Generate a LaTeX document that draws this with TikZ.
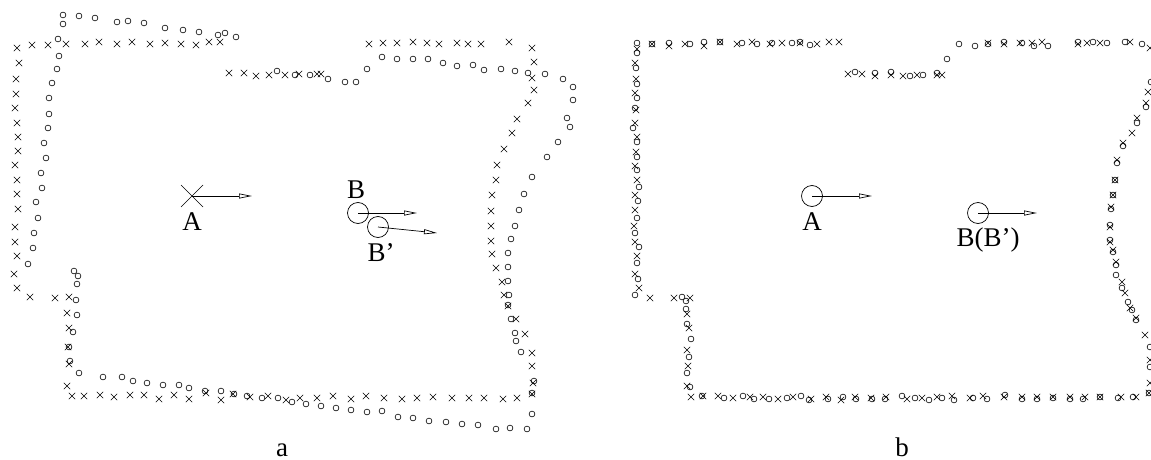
\documentclass[tikz,border=0pt]{standalone}
\usepackage{fontspec}
\setmainfont{Liberation Serif}
\usetikzlibrary{arrows.meta}
\begin{document}
\begin{tikzpicture}[x=1pt,y=-1pt,line width=0.6pt,
  vec/.style={line width=0.7pt,-{Triangle[open,length=13pt,width=5pt]}},
  pose/.style={draw,circle,minimum size=21pt,inner sep=0pt,line width=0.7pt},
  lbl/.style={font=\fontsize{27}{30}\selectfont,inner sep=0pt}]
\useasboundingbox (0,0) rectangle (1151,460);
\clip (0,0) rectangle (1151,460);
\newcommand\ringmarks[1]{\foreach \p in {#1} \draw \p circle[radius=2.9pt];}
\newcommand\crossmarks[1]{\foreach \p in {#1} \draw \p +(-3.2pt,-3.2pt) -- +(3.2pt,3.2pt) \p +(-3.2pt,3.2pt) -- +(3.2pt,-3.2pt);}
% ---------- panel a ----------
\ringmarks{(63,15),(63,24),(79,16),(95,18),(117,22),(128,21),(144,23),(165,28),(183,30),(199,32),(218,35),(225,33),(236,37),
(58,39),(59,56),(57,69),(52,83),(49,98),(49,114),(48,128),(44,143),(46,158),(41,173),(42,188),(36,202),(38,218),(34,233),(33,248),(28,264),
(74,271),(78,276),(77,284),(76,300),(77,315),(73,332),(69,347),(70,361),(79,373),
(103,377),(122,377),(133,381),(147,383),(163,385),(179,385),(189,388),(205,391),(221,391),(234,394),(247,396),(262,398),(278,398),(292,402),(306,404),(321,406),(336,408),(351,410),(367,412),(382,411),(398,417),(413,418),(429,421),(446,422),(462,424),(478,425),(496,429),(510,428),(527,429),
(532,414),(534,381),(532,393),
(515,226),(511,239),(508,253),(508,267),(508,281),(509,295),(508,305),(511,319),(515,333),(516,341),(521,352),
(367,69),(382,57),(397,59),(413,59),(428,59),(443,63),(457,66),(473,65),(484,70),(501,69),(515,71),(528,73),(545,74),(563,79),(573,87),(573,100),(567,118),(570,127),(558,142),(547,157),(532,177),(524,194),(519,210),
(328,79),(345,82),(356,82),(277,71),(295,75),(310,75)}
\crossmarks{(17,48),(32,45),(48,45),(66,44),(85,44),(99,42),(117,44),(132,42),(150,44),(165,43),(181,44),(196,45),(209,42),(220,42),
(19,63),(16,79),(16,94),(15,108),(17,123),(18,137),(18,151),(15,165),(17,180),(17,194),(18,209),(15,227),(15,242),(17,256),(14,274),(17,288),(30,297),(55,298),(69,297),(67,313),(69,328),(68,347),(69,364),(67,386),
(72,396),(84,396),(100,395),(114,397),(130,395),(144,395),(159,399),(174,395),(189,399),(206,393),(221,400),(233,394),(250,397),(268,396),(286,400),(300,398),(317,398),(333,396),(351,399),(366,396),(384,398),(402,399),(417,398),(433,397),(452,398),(469,398),(484,398),(503,399),(517,398),(533,383),(532,394),
(491,226),(491,241),(492,254),(496,268),(502,282),(504,295),(508,306),(516,319),(525,334),(532,353),(532,366),
(369,44),(383,43),(397,43),(413,42),(427,43),(439,44),(457,43),(468,44),(481,44),(509,42),(532,48),(534,62),(532,78),(534,90),(528,103),(517,119),(512,133),(504,149),(497,165),(496,180),(492,195),(491,211),
(229,73),(244,73),(256,76),(269,75),(285,75),(299,74),(317,74),(321,74)}
% poses in a
\coordinate (pA) at (192,196);
\draw[line width=0.7pt] (pA) +(-11,-11) -- +(11,11) (pA) +(-11,11) -- +(11,-11);
\coordinate (pAe) at (252,196);
\draw[vec] (pA) -- (pAe);
\node[lbl] (lA) at (192,222) {A};
\node[pose] (pB) at (358,213) {};
\coordinate (pBe) at (417,213);
\draw[vec] (pB.center) -- (pBe);
\node[lbl] (lB) at (356,190) {B};
\node[pose] (pBp) at (378,227) {};
\coordinate (pBpe) at (437,233);
\draw[vec] (pBp.center) -- (pBpe);
\node[lbl] (lBp) at (381,253) {B'};
\node[lbl,anchor=base] (la) at (282,456) {a};
% ---------- panel b ----------
\ringmarks{(637,43),(637,53),(652,44),(669,43),(690,44),(704,42),(720,42),(742,43),(757,44),(772,43),(792,43),(800,42),(810,45),
(636,68),(637,84),(637,98),(635,108),(633,128),(637,142),(637,157),(637,170),(639,187),(638,201),(637,218),(635,233),(639,247),(637,263),(638,279),(635,295),
(682,297),(686,301),(686,309),(687,324),(691,339),(689,357),(687,373),(690,387),
(702,396),(724,398),(743,396),(754,399),(769,399),(787,398),(801,396),(809,400),(828,399),(843,397),(856,399),(872,399),(885,399),(902,396),(915,398),(929,400),(942,398),(954,400),(973,398),(987,399),(1005,395),(1022,399),(1037,399),(1053,398),(1070,399),(1083,399),(1100,397),(1118,398),(1133,397),(1149,393),
(1110,225),(1110,240),(1113,252),(1116,265),(1116,275),(1122,288),(1128,302),(1132,310),(1136,320),(1150,347),(1150,367),
(1151,82),(1146,107),(1137,123),(1123,146),(1117,163),(1115,180),(1113,195),(1111,209),
(959,44),(975,46),(988,44),(1004,42),(1022,43),(1034,46),(1048,46),(1078,42),(1093,42),(1107,43),(1125,42),(1142,44),
(855,72),(875,73),(891,72),(910,76),(923,75),(937,73),(947,59)}
\crossmarks{(637,49),(652,44),(669,46),(685,44),(704,46),(720,42),(737,44),(752,42),(770,44),(782,43),(800,43),(817,44),(829,42),(839,42),
(635,63),(636,79),(635,93),(636,110),(635,123),(637,137),(636,152),(635,166),(637,180),(635,195),(635,210),(634,226),(635,242),(637,256),(635,274),(639,288),
(650,298),(674,298),(690,298),(687,314),(689,328),(687,350),(688,366),(687,386),(691,397),
(703,396),(718,396),(733,398),(750,397),(763,397),(778,399),(793,397),(811,399),(826,397),(841,400),(855,397),(871,398),(886,397),(907,399),(922,398),(937,397),(952,396),(970,398),(983,396),(1004,397),(1022,397),(1037,397),(1053,397),(1070,397),(1085,397),(1100,397),(1121,397),(1136,397),(1149,393),
(1110,227),(1110,242),(1113,250),(1116,262),(1122,282),(1125,293),(1130,308),(1136,318),(1145,335),(1150,360),(1150,383),
(1148,92),(1146,103),(1137,118),(1132,133),(1123,143),(1117,160),(1115,180),(1113,195),(1111,207),
(988,43),(1004,44),(1020,43),(1032,43),(1042,42),(1078,44),(1087,43),(1100,43),(1130,42),(1150,48),
(848,74),(862,74),(875,76),(891,75),(903,76),(917,75),(937,75),(942,75)}
\node[pose] (qA) at (812,196) {};
\coordinate (qAe) at (872,196);
\draw[vec] (qA.center) -- (qAe);
\node[lbl] (mA) at (812,222) {A};
\node[pose] (qB) at (978,213) {};
\coordinate (qBe) at (1037,213);
\draw[vec] (qB.center) -- (qBe);
\node[lbl] (mB) at (988,240) {B(B')};
\node[lbl,anchor=base] (lb) at (902,456) {b};
\end{tikzpicture}
\end{document}
